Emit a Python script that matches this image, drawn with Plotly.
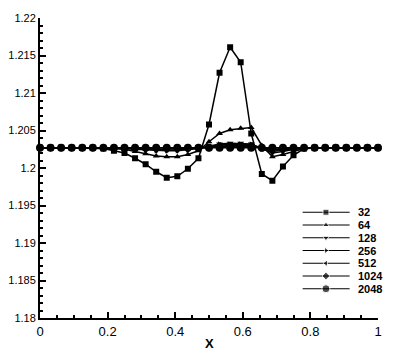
import plotly.graph_objects as go

# grid points (every 1/32) where the markers sit
x = [0.0, 0.03125, 0.0625, 0.09375, 0.125, 0.15625, 0.1875, 0.21875,
     0.25, 0.28125, 0.3125, 0.34375, 0.375, 0.40625, 0.4375, 0.46875,
     0.5, 0.53125, 0.5625, 0.59375, 0.625, 0.65625, 0.6875, 0.71875,
     0.75, 0.78125, 0.8125, 0.84375, 0.875, 0.90625, 0.9375, 0.96875, 1.0]

r32 = [1.2027, 1.2027, 1.2027, 1.2027, 1.2027, 1.2027, 1.2026, 1.2023,
       1.2020, 1.2013, 1.2005, 1.1995, 1.1987, 1.1989, 1.1999, 1.2013,
       1.2058, 1.2127, 1.2161, 1.2141, 1.2046, 1.1992, 1.1983, 1.2002,
       1.2017, 1.2026, 1.2027, 1.2027, 1.2027, 1.2027, 1.2027, 1.2027, 1.2027]
r64 = [1.2027, 1.2027, 1.2027, 1.2027, 1.2027, 1.2027, 1.2027, 1.2026,
       1.2025, 1.2022, 1.2019, 1.2016, 1.2015, 1.2015, 1.2018, 1.2023,
       1.2035, 1.2046, 1.2051, 1.2053, 1.2054, 1.2030, 1.2015, 1.2018,
       1.2022, 1.2026, 1.2027, 1.2027, 1.2027, 1.2027, 1.2027, 1.2027, 1.2027]
r128 = [1.2027, 1.2027, 1.2027, 1.2027, 1.2027, 1.2027, 1.2027, 1.2027,
        1.2026, 1.2025, 1.2024, 1.2023, 1.2023, 1.2023, 1.2024, 1.2026,
        1.2029, 1.2032, 1.2033, 1.2033, 1.2032, 1.2026, 1.2020, 1.2022,
        1.2025, 1.2026, 1.2027, 1.2027, 1.2027, 1.2027, 1.2027, 1.2027, 1.2027]
r256 = [1.2027, 1.2027, 1.2027, 1.2027, 1.2027, 1.2027, 1.2027, 1.2027,
        1.2027, 1.2026, 1.2025, 1.2024, 1.2024, 1.2024, 1.2025, 1.2026,
        1.2028, 1.2031, 1.2031, 1.2031, 1.2031, 1.2026, 1.2022, 1.2024,
        1.2026, 1.2027, 1.2027, 1.2027, 1.2027, 1.2027, 1.2027, 1.2027, 1.2027]
r512 = [1.2027, 1.2027, 1.2027, 1.2027, 1.2027, 1.2027, 1.2027, 1.2027,
        1.2027, 1.2027, 1.2026, 1.2025, 1.2025, 1.2025, 1.2026, 1.2027,
        1.2028, 1.2030, 1.2030, 1.2030, 1.2030, 1.2026, 1.2024, 1.2025,
        1.2026, 1.2027, 1.2027, 1.2027, 1.2027, 1.2027, 1.2027, 1.2027, 1.2027]
r1024 = [1.2027, 1.2027, 1.2027, 1.2027, 1.2027, 1.2027, 1.2027, 1.2027,
         1.2027, 1.2027, 1.2027, 1.2026, 1.2026, 1.2026, 1.2027, 1.2027,
         1.2027, 1.2029, 1.2029, 1.2029, 1.2029, 1.2027, 1.2025, 1.2026,
         1.2027, 1.2027, 1.2027, 1.2027, 1.2027, 1.2027, 1.2027, 1.2027, 1.2027]
r2048 = [1.2027] * 33

labels = ["32", "64", "128", "256", "512", "1024", "2048"]
series = [r32, r64, r128, r256, r512, r1024, r2048]
symbols = ["square", "triangle-up", "triangle-down", "triangle-right",
           "triangle-left", "diamond", "circle"]
sizes = [6, 6, 6, 6, 6, 6, 8]

fig = go.Figure()

for name, y, sym, sz in zip(labels, series, symbols, sizes):
    fig.add_trace(go.Scatter(
        x=x, y=y, mode="lines+markers", name=name, showlegend=False,
        line=dict(color="black", width=1.5),
        marker=dict(symbol=sym, size=sz, color="black"),
        cliponaxis=False,
    ))

# hand-made legend box, in data coordinates (bottom right)
leg_x0, leg_xm, leg_x1, leg_xt = 0.777, 0.846, 0.916, 0.936
leg_top, leg_step = 1.1941, 0.0017
for i, (name, sym, sz) in enumerate(zip(labels, symbols, sizes)):
    yy = leg_top - i * leg_step
    fig.add_trace(go.Scatter(
        x=[leg_x0, leg_xm, leg_x1], y=[yy, yy, yy], mode="lines+markers",
        showlegend=False, hoverinfo="skip",
        line=dict(color="black", width=1.2),
        marker=dict(symbol=sym, size=[0, sz, 0], color="black"),
    ))
    fig.add_annotation(x=leg_xt, y=yy, text="<b>%s</b>" % name, showarrow=False,
                       xanchor="left", yanchor="middle",
                       font=dict(size=11, color="black", family="Liberation Sans"))

# x axis title as an annotation so it sits closer to the tick labels
fig.add_annotation(x=0.5, y=0, xref="paper", yref="paper", text="<b>X</b>",
                   showarrow=False, xanchor="center", yanchor="top", yshift=-16,
                   font=dict(size=13, color="black", family="Liberation Sans"))

# page body has an 8px margin, so the figure is 8px smaller each way
fig.update_layout(
    width=391, height=347,
    margin=dict(l=32, r=21, t=10, b=37),
    paper_bgcolor="white", plot_bgcolor="white",
    font=dict(family="Liberation Sans", color="black"),
    xaxis=dict(
        range=[0, 1], dtick=0.2, tick0=0, automargin=False,
        ticks="inside", ticklen=6, tickwidth=1.5, tickcolor="black",
        minor=dict(dtick=0.05, ticks="inside", ticklen=3, tickcolor="black"),
        showgrid=False, zeroline=False,
        showline=True, linewidth=2, linecolor="black",
        tickfont=dict(size=13), ticklabelstandoff=0,
    ),
    yaxis=dict(
        range=[1.18, 1.22], dtick=0.005, tick0=1.18, automargin=False,
        ticks="inside", ticklen=6, tickwidth=1.5, tickcolor="black",
        minor=dict(dtick=0.001, ticks="inside", ticklen=3, tickcolor="black"),
        showgrid=False, zeroline=False,
        showline=True, linewidth=2, linecolor="black",
        tickfont=dict(size=11),
    ),
)

fig.write_html("out.html")
